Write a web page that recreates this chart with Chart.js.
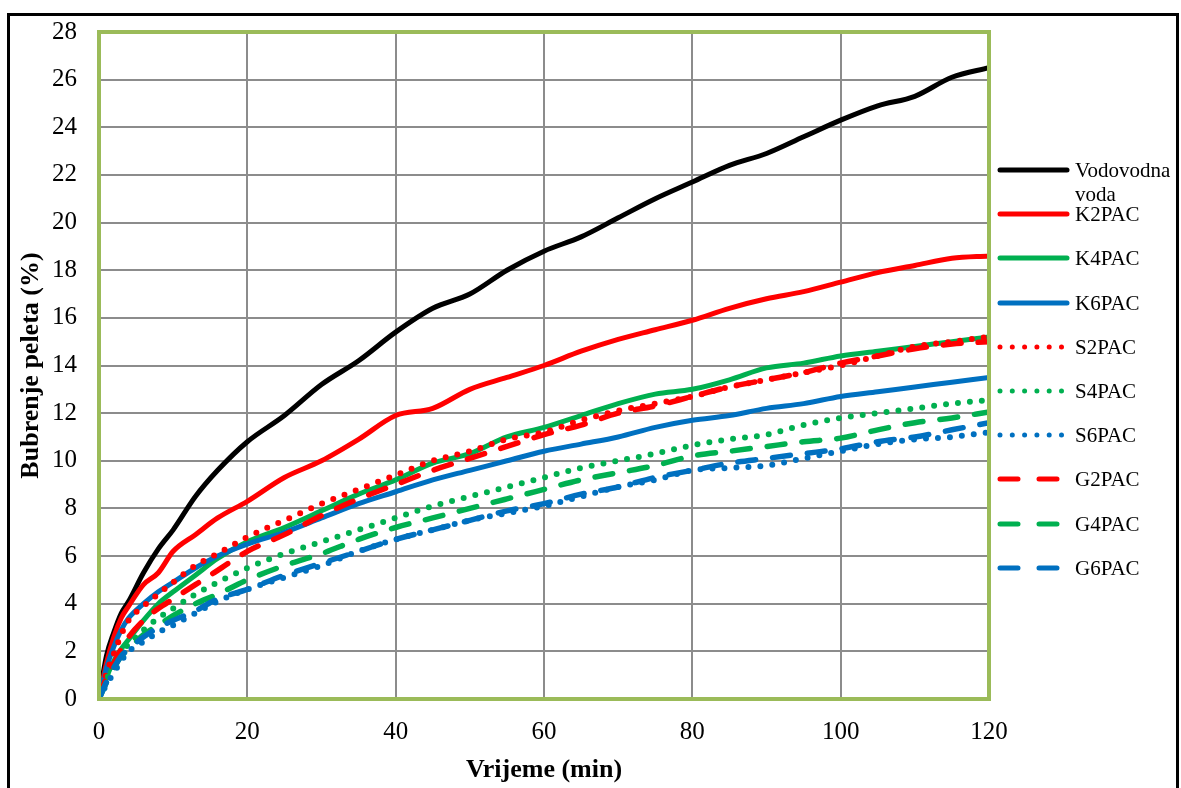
<!DOCTYPE html>
<html>
<head>
<meta charset="utf-8">
<script src="https://cdn.jsdelivr.net/npm/chart.js@4.4.1/dist/chart.umd.min.js"></script>
<style>
  html, body { margin: 0; padding: 0; background: #fff; }
  #wrap { position: relative; width: 1181px; height: 788px; overflow: hidden; }
  #frame { position: absolute; left: 7px; top: 13px; width: 1166px; height: 800px; border: 3px solid #000; pointer-events: none; }
  #legend { position: absolute; left: 997px; top: 0; width: 184px; font-family: 'Liberation Serif', 'Times New Roman', serif; font-size: 21px; color: #000; }
  .item { position: absolute; left: 0; height: 24px; }
  .item svg { position: absolute; left: 0; top: 7px; }
  .item span { position: absolute; left: 78px; top: 0; line-height: 24px; white-space: nowrap; }
</style>
</head>
<body>
<div id="wrap">
  <canvas id="chart" width="1181" height="788"></canvas>
  <div id="legend"></div>
  <div id="frame"></div>
</div>
<script>
// ==================== DATA ====================
const time = [0, 1, 2, 3, 4, 6, 8, 10, 13, 16, 20, 25, 30, 35, 40, 45, 50, 55, 60, 65, 70, 75, 80, 85, 90, 95, 100, 105, 110, 115, 120];

const vodovodna = [0, 1.8, 2.8, 3.6, 4.1, 5.3, 6.3, 7.1, 8.5, 9.6, 10.8, 11.9, 13.2, 14.2, 15.4, 16.4, 17.0, 18.0, 18.8, 19.4, 20.2, 21.0, 21.7, 22.4, 22.9, 23.6, 24.3, 24.9, 25.3, 26.1, 26.5];
const k2pac = [0, 1.5, 2.6, 3.4, 3.9, 4.8, 5.3, 6.2, 6.9, 7.6, 8.3, 9.3, 10.0, 10.9, 11.9, 12.2, 13.0, 13.5, 14.0, 14.6, 15.1, 15.5, 15.9, 16.4, 16.8, 17.1, 17.5, 17.9, 18.2, 18.5, 18.6];
const k4pac = [0, 0.9, 1.6, 2.1, 2.5, 3.3, 4.0, 4.5, 5.2, 5.9, 6.6, 7.2, 7.9, 8.6, 9.2, 9.9, 10.3, 11.0, 11.4, 11.9, 12.4, 12.8, 13.0, 13.4, 13.9, 14.1, 14.4, 14.6, 14.8, 15.0, 15.2];
const k6pac = [0, 1.3, 2.2, 2.9, 3.4, 4.0, 4.5, 4.9, 5.5, 6.0, 6.5, 7.0, 7.6, 8.2, 8.7, 9.2, 9.6, 10.0, 10.4, 10.7, 11.0, 11.4, 11.7, 11.9, 12.2, 12.4, 12.7, 12.9, 13.1, 13.3, 13.5];
const s2pac = [0, 1.1, 1.9, 2.7, 3.3, 3.9, 4.4, 4.9, 5.6, 6.1, 6.8, 7.5, 8.2, 8.8, 9.4, 10.0, 10.4, 10.9, 11.2, 11.7, 12.1, 12.4, 12.7, 13.1, 13.4, 13.7, 14.0, 14.4, 14.8, 15.0, 15.2];
const s4pac = [0, 0.8, 1.4, 1.9, 2.3, 2.9, 3.4, 3.8, 4.4, 4.9, 5.5, 6.1, 6.6, 7.1, 7.6, 8.1, 8.5, 8.9, 9.3, 9.7, 10.0, 10.3, 10.65, 10.9, 11.1, 11.5, 11.8, 12.0, 12.2, 12.4, 12.55];
const s6pac = [0, 0.6, 1.1, 1.6, 2.0, 2.4, 2.8, 3.1, 3.6, 4.1, 4.6, 5.1, 5.6, 6.2, 6.7, 7.1, 7.5, 7.8, 8.1, 8.5, 8.9, 9.2, 9.6, 9.7, 9.8, 10.1, 10.4, 10.7, 10.9, 11.0, 11.2];
const g2pac = [0, 0.9, 1.5, 2.1, 2.6, 3.3, 3.8, 4.2, 4.8, 5.4, 6.2, 6.9, 7.7, 8.4, 9.0, 9.6, 10.1, 10.6, 11.1, 11.5, 12.0, 12.3, 12.7, 13.1, 13.4, 13.7, 14.1, 14.4, 14.7, 14.9, 15.0];
const g4pac = [0, 0.7, 1.3, 1.8, 2.1, 2.7, 3.1, 3.5, 4.0, 4.4, 5.0, 5.6, 6.1, 6.7, 7.2, 7.6, 8.0, 8.4, 8.8, 9.2, 9.5, 9.8, 10.2, 10.4, 10.6, 10.8, 10.95, 11.3, 11.6, 11.8, 12.05];
const g6pac = [0, 0.7, 1.3, 1.8, 2.1, 2.6, 3.0, 3.3, 3.7, 4.2, 4.6, 5.2, 5.7, 6.2, 6.7, 7.1, 7.5, 7.9, 8.2, 8.6, 8.9, 9.3, 9.6, 9.9, 10.1, 10.3, 10.5, 10.8, 11.0, 11.3, 11.6];

const xTicks = [0, 20, 40, 60, 80, 100, 120];
const yTicks = [0, 2, 4, 6, 8, 10, 12, 14, 16, 18, 20, 22, 24, 26, 28];

const series = [
    { label: 'Vodovodna voda', data: vodovodna, color: '#000000', style: 'solid' },
    { label: 'K2PAC', data: k2pac, color: '#FF0000', style: 'solid' },
    { label: 'K4PAC', data: k4pac, color: '#00B050', style: 'solid' },
    { label: 'K6PAC', data: k6pac, color: '#0070C0', style: 'solid' },
    { label: 'S2PAC', data: s2pac, color: '#FF0000', style: 'dot' },
    { label: 'S4PAC', data: s4pac, color: '#00B050', style: 'dot' },
    { label: 'S6PAC', data: s6pac, color: '#0070C0', style: 'dot' },
    { label: 'G2PAC', data: g2pac, color: '#FF0000', style: 'dash' },
    { label: 'G4PAC', data: g4pac, color: '#00B050', style: 'dash' },
    { label: 'G6PAC', data: g6pac, color: '#0070C0', style: 'dash' }
];

const FONT = "'Liberation Serif', 'Times New Roman', serif";
const dashFor = { solid: [], dot: [0, 12], dash: [18, 17] };
const widthFor = { solid: 5, dot: 6, dash: 5.5 };

// zeleni okvir oko podrucja grafa
const plotBorder = {
    id: 'plotBorder',
    afterDatasetsDraw(chart) {
        const { ctx, chartArea: a } = chart;
        ctx.save();
        ctx.strokeStyle = '#9BBB59';
        ctx.lineWidth = 4;
        ctx.strokeRect(a.left, a.top, a.right - a.left, a.bottom - a.top);
        ctx.restore();
    }
};

const ctx = document.getElementById('chart').getContext('2d');
const chart = new Chart(ctx, {
    type: 'line',
    data: {
        datasets: series.map((s, i) => ({
            label: s.label,
            data: time.map((t, j) => ({ x: t, y: s.data[j] })),
            borderColor: s.color,
            backgroundColor: s.color,
            borderWidth: widthFor[s.style],
            borderDash: dashFor[s.style],
            borderCapStyle: 'round',
            borderJoinStyle: 'round',
            pointRadius: 0,
            cubicInterpolationMode: 'monotone',
            fill: false,
            order: series.length - 1 - i
        }))
    },
    options: {
        responsive: false,
        animation: false,
        layout: { padding: { left: 0, right: 192, top: 32, bottom: 0 } },
        plugins: {
            legend: { display: false },
            tooltip: { enabled: false }
        },
        scales: {
            x: {
                type: 'linear',
                min: 0,
                max: 120,
                afterBuildTicks: scale => { scale.ticks = xTicks.map(v => ({ value: v })); },
                afterFit: scale => { scale.height = 89; scale.paddingLeft = 0; scale.paddingRight = 0; },
                grid: { color: '#8C8C8C', lineWidth: 2, drawTicks: false },
                border: { display: false },
                ticks: { color: '#000', padding: 18, font: { family: FONT, size: 25 } },
                title: {
                    display: true,
                    text: 'Vrijeme (min)',
                    color: '#000',
                    padding: { top: 0, bottom: 2 },
                    font: { family: FONT, size: 26, weight: 'bold' }
                }
            },
            y: {
                min: 0,
                max: 28,
                afterBuildTicks: scale => { scale.ticks = yTicks.map(v => ({ value: v })); },
                afterFit: scale => { scale.width = 99; scale.paddingTop = 0; scale.paddingBottom = 0; },
                grid: { color: '#8C8C8C', lineWidth: 2, drawTicks: false },
                border: { display: false },
                ticks: { color: '#000', padding: 22, font: { family: FONT, size: 25 } },
                title: {
                    display: true,
                    text: 'Bubrenje peleta (%)',
                    color: '#000',
                    padding: { top: 16, bottom: 0 },
                    font: { family: FONT, size: 26, weight: 'bold' }
                }
            }
        }
    },
    plugins: [plotBorder]
});

// legenda (HTML)
function buildLegend() {
    const box = document.getElementById('legend');
    const firstY = 170, step = 44.2;
    box.innerHTML = series.map((s, i) => {
        const y = Math.round(firstY + i * step) - 12;
        const dash = s.style === 'dot' ? '0 12.3' : s.style === 'dash' ? '18 21' : 'none';
        const label = i === 0
            ? '<span style="line-height:24px">Vodovodna<br>voda</span>'
            : `<span>${s.label}</span>`;
        return `<div class="item" style="top:${y}px">
            <svg width="76" height="10"><line x1="3" y1="5" x2="70" y2="5" stroke="${s.color}" stroke-width="5"
              stroke-linecap="round" stroke-dasharray="${dash}"/></svg>
            ${label}</div>`;
    }).join('');
}
buildLegend();
</script>
</body>
</html>
